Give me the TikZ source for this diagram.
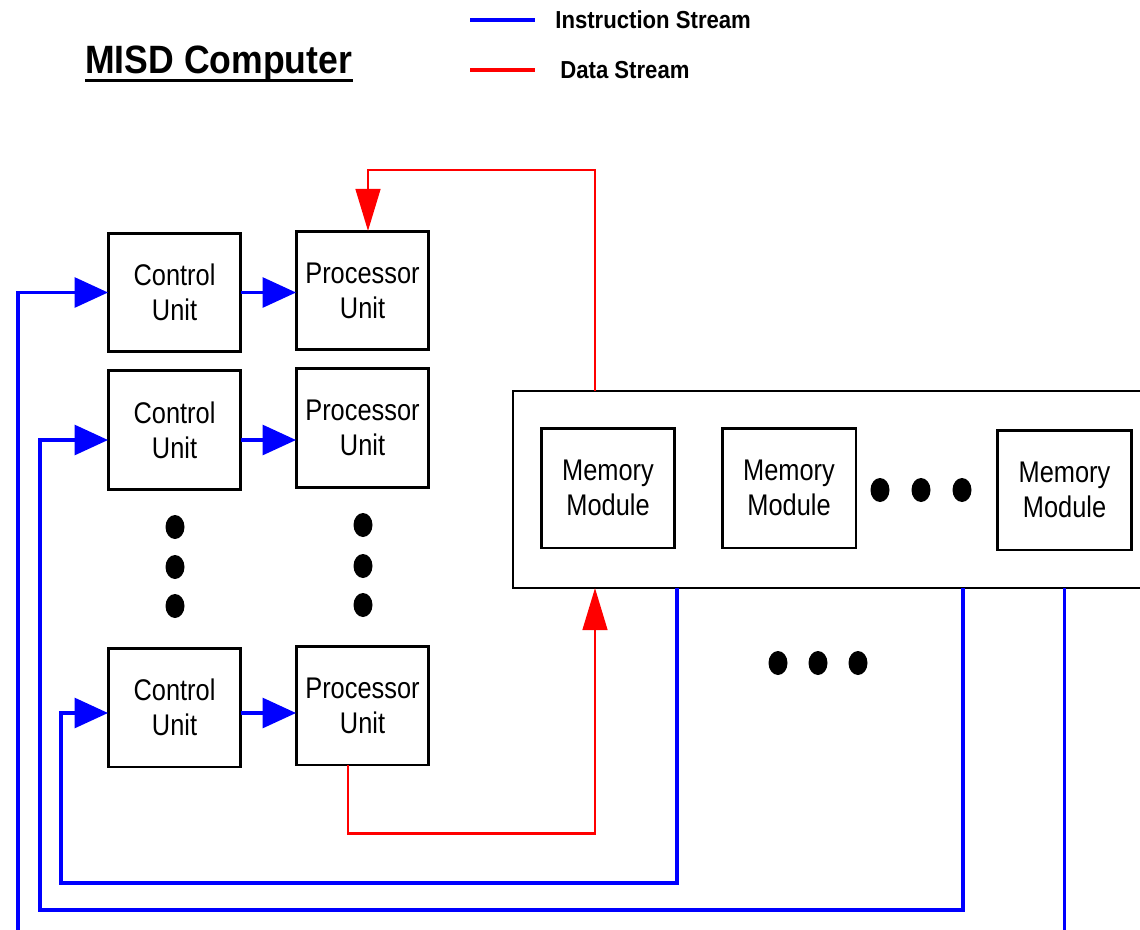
\documentclass[tikz,border=0pt]{standalone}
\usepackage{fontspec}
\setmainfont{Liberation Sans}
\newfontfamily\boxfont[FakeStretch=0.85]{Liberation Sans}
\newfontfamily\headfont[FakeStretch=0.9]{Liberation Sans}
\usetikzlibrary{arrows.meta}
\begin{document}
\begin{tikzpicture}[x=0.02cm, y=-0.02cm,
  unit/.style={draw, line width=1.7pt, minimum width=2.66cm, minimum height=2.38cm,
    inner sep=0pt, outer sep=0pt, align=center, font=\boxfont\fontsize{17}{20}\selectfont},
  legtext/.style={anchor=west, inner sep=0pt, font=\headfont\bfseries\fontsize{14}{16}\selectfont},
  ins/.style={blue, line width=1.8pt},
  insarr/.style={ins, -{Triangle[length=19pt, width=17pt]}},
  dat/.style={red, line width=1.7pt},
  datarr/.style={dat, -{Triangle[length=24pt, width=14pt]}}]
\useasboundingbox (0,0) rectangle (1140,930);
% title and legend
\node[font=\headfont\bfseries\fontsize{22.5}{26}\selectfont, anchor=base west, inner sep=0pt] (title) at (85,73) {MISD Computer};
\draw[line width=1.7pt] ([yshift=-4.5pt]title.base west) -- ([yshift=-4.5pt]title.base east);
\coordinate (insA) at (470,20);
\coordinate (insB) at (535,20);
\coordinate (datA) at (470,70);
\coordinate (datB) at (535,70);
\draw[ins, line width=2.6pt] (insA) -- (insB);
\draw[dat, line width=2.6pt] (datA) -- (datB);
\node[legtext] (instext) at (555,20) {Instruction Stream};
\node[legtext] (dattext) at (560,70) {Data Stream};
% control and processor units
\foreach \i/\y in {1/292.5, 2/430, 3/707.5}
  \node[unit] (cu\i) at (174.5,\y) {Control\\Unit};
\foreach \i/\y in {1/290.5, 2/428, 3/705.5}
  \node[unit] (pu\i) at (362.5,\y) {Processor\\Unit};
% memory
\node[draw, line width=0.85pt, minimum width=13.2cm, minimum height=3.94cm, outer sep=0pt] (mem) at (843,489.5) {};
\foreach \i/\x/\y in {1/608/488, 2/789/488, 3/1064.5/490}
  \node[unit, minimum width=2.68cm, minimum height=2.4cm] (mm\i) at (\x,\y) {Memory\\Module};
% dots
\foreach \x/\y in {175/527, 175/567, 175/606, 363/525, 363/566, 363/605,
                   880/490, 921/490, 962/490, 778/663, 818/663, 858/663}
  \fill (\x,\y) ellipse [x radius=9.5, y radius=12];
% instruction streams
\draw[insarr] (18,935) |- (cu1.west);
\draw[insarr] (cu1.east) -- (pu1.west |- cu1.east);
\draw[insarr] (mem.south -| 963,0) |- (40,910) |- (cu2.west |- 0,440);
\draw[insarr] (cu2.east |- 0,440) -- (pu2.west |- 0,440);
\draw[insarr] (mem.south -| 677,0) |- (61,883) |- (cu3.west |- 0,713);
\draw[insarr] (cu3.east |- 0,713) -- (pu3.west |- 0,713);
\draw[ins] (mem.south -| mm3) -- (mm3 |- 0,935);
% data streams
\draw[datarr] (mem.north -| 595,0) |- (368,170) -- (pu1.north -| 368,0);
\draw[datarr] (pu3.south -| 348,0) |- (595,833) -- (mem.south -| 595,0);
\end{tikzpicture}
\end{document}
